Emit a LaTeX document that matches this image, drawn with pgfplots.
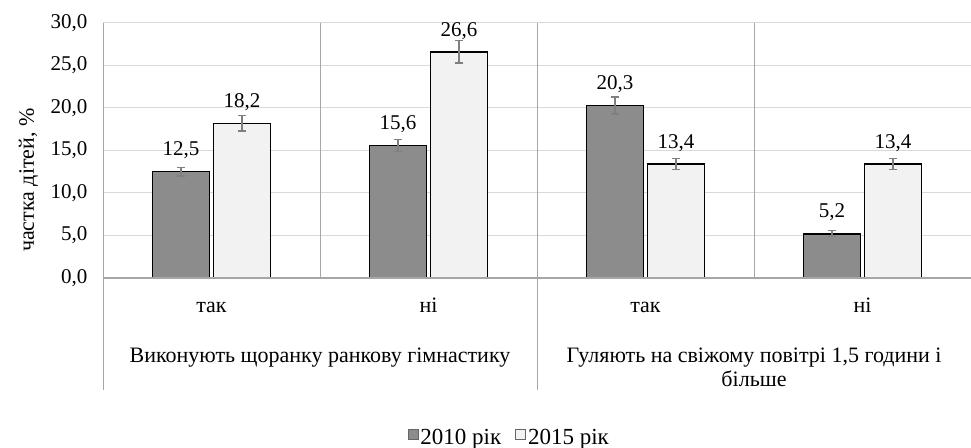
\documentclass[border=0pt]{standalone}
\usepackage{fontspec}
\setmainfont{Liberation Serif}
\usepackage{pgfplots}
\usepackage{pgfplotstable}
\pgfplotsset{compat=1.18}
\definecolor{darkbar}{HTML}{8C8C8C}
\definecolor{lightbar}{HTML}{F2F2F2}
\definecolor{gridc}{HTML}{D9D9D9}
\definecolor{sepc}{HTML}{A6A6A6}
\definecolor{errc}{HTML}{7F7F7F}
\pgfplotstableread{
x y e
0 12.5 0.5
1 15.6 0.7
2 20.3 1.0
3 5.2 0.35
}\dataA
\pgfplotstableread{
x y e
0 18.2 0.9
1 26.6 1.3
2 13.4 0.65
3 13.4 0.65
}\dataB
\pgfkeys{/pgf/number format/.cd, fixed, fixed zerofill, precision=1, use comma, assume math mode=true}
\begin{document}
\begin{tikzpicture}[font=\rmfamily\fontsize{21bp}{25bp}\selectfont]
\useasboundingbox (0,0) rectangle (971bp,448bp);
\begin{axis}[
  at={(103bp,170bp)}, anchor=south west,
  scale only axis, width=868bp, height=255bp,
  xmin=-0.5, xmax=3.5, ymin=0, ymax=30,
  ytick={0,5,...,30},
  xtick={0,1,2,3}, xticklabels={так,ні,так,ні},
  major tick length=0,
  axis line style={draw=none},
  ymajorgrids, grid style={color=gridc, line width=1bp},
  yticklabel style={xshift=-12bp},
  xticklabel style={anchor=base, yshift=-34bp, font=\rmfamily\fontsize{22bp}{26bp}\selectfont},
  ylabel={частка дітей, \%},
  ylabel style={at={(axis description cs:-0.086,0.384)}, anchor=center, font=\rmfamily\fontsize{22bp}{26bp}\selectfont},
  ybar=4bp, bar width=57bp,
  clip=false,
  nodes near coords,
  every node near coord/.append style={yshift=8.5bp, text=black},
  legend style={at={(axis description cs:0.468,-0.624)}, anchor=center, draw=none, legend columns=2,
    font=\rmfamily\fontsize{23bp}{27bp}\selectfont,
    /tikz/every even column/.append style={column sep=12bp}},
  legend image code/.code={\draw[#1, draw=black!60, line width=0.8bp] (0bp,-2.5bp) rectangle (10bp,7.5bp);},
]
\addplot[fill=darkbar, draw=black, line width=1.5bp,
  error bars/.cd, y dir=both, y explicit,
  error bar style={color=errc, line width=1.2bp},
  error mark options={rotate=90, mark size=4bp, color=errc, line width=1.2bp}]
  table[x=x, y=y, y error=e] {\dataA};
\addplot[fill=lightbar, draw=black, line width=1.5bp,
  error bars/.cd, y dir=both, y explicit,
  error bar style={color=errc, line width=1.2bp},
  error mark options={rotate=90, mark size=4bp, color=errc, line width=1.2bp}]
  table[x=x, y=y, y error=e] {\dataB};
\legend{2010 рік, 2015 рік}
\draw[sepc, line width=1.2bp] (axis cs:-0.5,0) -- (axis cs:3.5,0);
\draw[sepc, line width=1bp] (axis cs:-0.5,30) -- ([yshift=-112bp]axis cs:-0.5,0);
\draw[sepc, line width=1bp] (axis cs:1.5,30) -- ([yshift=-112bp]axis cs:1.5,0);
\draw[sepc, line width=1bp] (axis cs:0.5,30) -- (axis cs:0.5,0);
\draw[sepc, line width=1bp] (axis cs:2.5,30) -- (axis cs:2.5,0);
\node[anchor=base, font=\rmfamily\fontsize{22bp}{26bp}\selectfont] at ([yshift=-84bp]axis cs:0.5,0) {Виконують щоранку ранкову гімнастику};
\node[anchor=base, font=\rmfamily\fontsize{22bp}{26bp}\selectfont] at ([yshift=-84bp]axis cs:2.5,0) {Гуляють на свіжому повітрі 1,5 години і};
\node[anchor=base, font=\rmfamily\fontsize{22bp}{26bp}\selectfont] at ([yshift=-108bp]axis cs:2.5,0) {більше};
\end{axis}
\end{tikzpicture}
\end{document}
